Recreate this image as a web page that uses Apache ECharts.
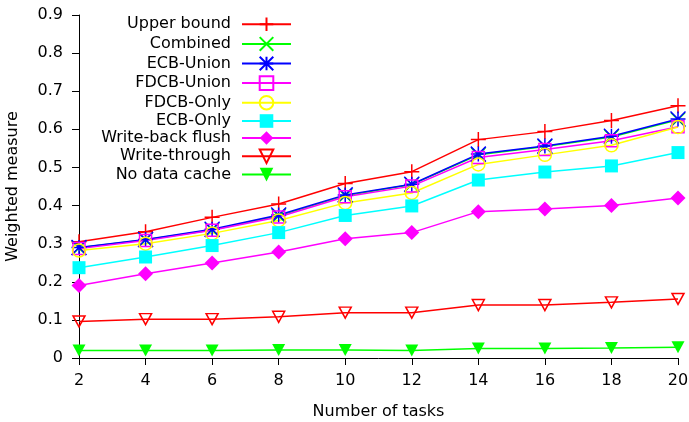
<!DOCTYPE html>
<html>
<head>
<meta charset="utf-8">
<script src="https://cdn.jsdelivr.net/npm/echarts@6/dist/echarts.min.js"></script>
<style>
  html, body { margin: 0; padding: 0; background: #fff; }
  #main { width: 689px; height: 422px; }
</style>
</head>
<body>
<div id="main"></div>
<script>
// number of tasks
const tasks = [2, 4, 6, 8, 10, 12, 14, 16, 18, 20]

// weighted measure per series
const upperBound = [0.305, 0.331, 0.369, 0.404, 0.458, 0.489, 0.573, 0.594, 0.623, 0.662]
const combined = [0.289, 0.310, 0.336, 0.373, 0.426, 0.455, 0.533, 0.555, 0.580, 0.625]
const ecbUnion = [0.290, 0.311, 0.338, 0.375, 0.428, 0.456, 0.535, 0.556, 0.582, 0.627]
const fdcbUnion = [0.287, 0.308, 0.335, 0.370, 0.423, 0.451, 0.526, 0.547, 0.570, 0.607]
const fdcbOnly = [0.282, 0.300, 0.327, 0.361, 0.407, 0.433, 0.508, 0.533, 0.558, 0.606]
const ecbOnly = [0.237, 0.265, 0.295, 0.329, 0.374, 0.399, 0.467, 0.488, 0.504, 0.539]
const writeBackFlush = [0.190, 0.221, 0.249, 0.278, 0.313, 0.329, 0.384, 0.391, 0.400, 0.420]
const writeThrough = [0.096, 0.102, 0.102, 0.108, 0.119, 0.119, 0.139, 0.139, 0.146, 0.155]
const noDataCache = [0.020, 0.020, 0.020, 0.021, 0.021, 0.020, 0.025, 0.025, 0.026, 0.028]

const seriesNames = ['Upper bound', 'Combined', 'ECB-Union', 'FDCB-Union', 'FDCB-Only',
  'ECB-Only', 'Write-back flush', 'Write-through', 'No data cache']

const FONT = 'DejaVu Sans'

// gnuplot style point shapes
const plusPath = 'path://M5,0L5,10M0,5L10,5'
const crossPath = 'path://M0,0L10,10M10,0L0,10'
const starPath = 'path://M5,0L5,10M0,5L10,5M0,0L10,10M10,0L0,10'
const triDownPath = 'path://M0,0L10,0L5,9Z'

function pairs(values) {
  return tasks.map((t, i) => [t, values[i]])
}

/** one gnuplot-like line with points */
function makeSeries(name, values, color, symbol, size, filled) {
  return {
    name: name,
    type: 'line',
    data: pairs(values),
    symbol: symbol,
    symbolSize: size,
    showAllSymbol: true,
    clip: false,
    lineStyle: { color: color, width: 1.5 },
    itemStyle: {
      color: filled ? color : 'none',
      borderColor: color,
      borderWidth: filled ? 0 : 1.5
    },
    emphasis: { disabled: true }
  }
}

const chart = echarts.init(document.getElementById('main'))

const option = {
  animation: false,
  backgroundColor: '#fff',
  textStyle: { fontFamily: FONT },
  grid: { left: 79, right: 11, top: 15, bottom: 64, outerBoundsMode: 'none' },
  legend: {
    orient: 'vertical',
    align: 'right',
    right: 397,
    top: 15,
    padding: 0,
    itemWidth: 49,
    itemHeight: 17,
    itemGap: 1,
    data: seriesNames,
    textStyle: {
      fontFamily: FONT,
      fontSize: 16,
      lineHeight: 16,
      color: '#000',
      padding: [0, 6, 0, 0]
    }
  },
  xAxis: {
    type: 'value',
    min: 2,
    max: 20,
    interval: 2,
    name: 'Number of tasks',
    nameLocation: 'middle',
    nameGap: 46,
    nameTextStyle: { fontFamily: FONT, fontSize: 16, color: '#000' },
    axisLine: { show: true, onZero: false, lineStyle: { color: '#000', width: 1 } },
    axisTick: { show: true, length: 7, lineStyle: { color: '#000' } },
    axisLabel: { fontFamily: FONT, fontSize: 16, color: '#000', margin: 15 },
    splitLine: { show: false }
  },
  yAxis: {
    type: 'value',
    min: 0,
    max: 0.9,
    interval: 0.1,
    name: 'Weighted measure',
    nameLocation: 'middle',
    nameGap: 58,
    nameTextStyle: { fontFamily: FONT, fontSize: 16, color: '#000' },
    axisLine: { show: true, lineStyle: { color: '#000', width: 1 } },
    axisTick: { show: true, length: 7, lineStyle: { color: '#000' } },
    axisLabel: { fontFamily: FONT, fontSize: 16, color: '#000', margin: 16 },
    splitLine: { show: false }
  },
  series: [
    makeSeries('Upper bound', upperBound, '#ff0000', plusPath, 15, false),
    makeSeries('Combined', combined, '#00ff00', crossPath, 14, false),
    makeSeries('ECB-Union', ecbUnion, '#0000ff', starPath, 15, false),
    makeSeries('FDCB-Union', fdcbUnion, '#ff00ff', 'rect', 12, false),
    makeSeries('FDCB-Only', fdcbOnly, '#ffff00', 'circle', 13, false),
    makeSeries('ECB-Only', ecbOnly, '#00ffff', 'rect', 13, true),
    makeSeries('Write-back flush', writeBackFlush, '#ff00ff', 'diamond', 15, true),
    makeSeries('Write-through', writeThrough, '#ff0000', triDownPath, [12, 11], false),
    makeSeries('No data cache', noDataCache, '#00ff00', triDownPath, [13, 12], true)
  ]
}

chart.setOption(option)
</script>
</body>
</html>
